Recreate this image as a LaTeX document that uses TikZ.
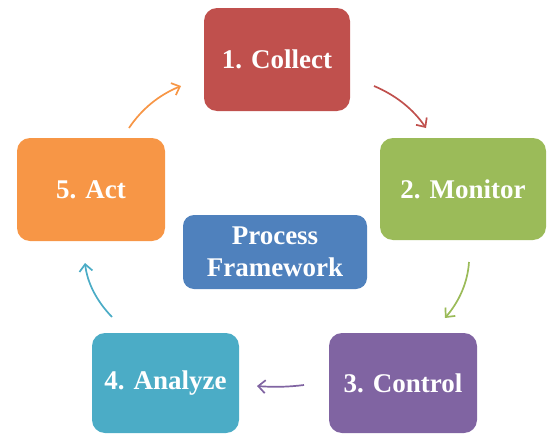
\documentclass[tikz,border=0pt]{standalone}
\usepackage{fontspec}
\setmainfont{Liberation Serif}
\usetikzlibrary{arrows.meta}
\definecolor{cRed}{HTML}{C0504D}
\definecolor{cGreen}{HTML}{9BBB59}
\definecolor{cPurple}{HTML}{8064A2}
\definecolor{cTeal}{HTML}{4BACC6}
\definecolor{cOrange}{HTML}{F79646}
\definecolor{cBlue}{HTML}{4F81BD}
\tikzset{
  stagebox/.style={rounded corners=13pt, inner sep=0pt, text=white,
    font=\fontsize{27}{32}\selectfont\bfseries, align=center},
  flow/.style={line width=1.7pt, -{Straight Barb[length=7pt,width=13pt,line width=1.7pt]}}
}
\begin{document}
\begin{tikzpicture}[x=1pt,y=-1pt]
  \useasboundingbox (0,0) rectangle (547,434);
  % process stages
  \node[stagebox, fill=cRed,    minimum width=146pt, minimum height=103pt] (collect) at (277,59.5) {1. Collect};
  \node[stagebox, fill=cGreen,  minimum width=166pt, minimum height=102pt] (monitor) at (463,189) {2. Monitor};
  \node[stagebox, fill=cPurple, minimum width=148pt, minimum height=100pt] (control) at (403,383) {3. Control};
  \node[stagebox, fill=cTeal,   minimum width=147pt, minimum height=100pt] (analyze) at (165.5,383) {4. Analyze};
  \node[stagebox, fill=cOrange, minimum width=148pt, minimum height=103pt] (act) at (91,189.5) {5. Act};
  % centre label
  \node[stagebox, fill=cBlue, rounded corners=11pt, minimum width=184pt, minimum height=74pt] (framework) at (275,252) {Process\\Framework};
  % cycle arrows
  \coordinate (c1s) at (374,86);  \coordinate (c1e) at (426,128);
  \coordinate (c2s) at (469,262); \coordinate (c2e) at (445,318);
  \coordinate (c3s) at (304,385); \coordinate (c3e) at (257,386);
  \coordinate (c4s) at (112,317); \coordinate (c4e) at (85,263);
  \coordinate (c5s) at (129,128); \coordinate (c5e) at (181,86);
  \draw[flow, cRed]    (c1s) .. controls (396,95.3) and (413.3,109.3) .. (c1e);
  \draw[flow, cGreen]  (c2s) .. controls (467.7,282) and (459.7,300.7) .. (c2e);
  \draw[flow, cPurple] (c3s) .. controls (288.7,387) and (273,387.3) .. (c3e);
  \draw[flow, cTeal]   (c4s) .. controls (96.3,300.7) and (87.3,282.7) .. (c4e);
  \draw[flow, cOrange] (c5s) .. controls (141.7,109) and (159,95) .. (c5e);
\end{tikzpicture}
\end{document}
